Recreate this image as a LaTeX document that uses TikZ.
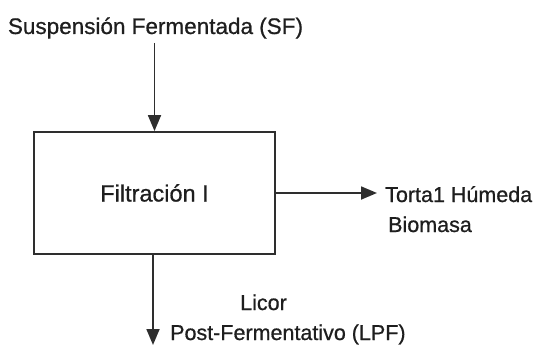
\documentclass[tikz,border=0pt]{standalone}
\usepackage{fontspec}
\setmainfont{Liberation Sans}[FakeBold=0.7]
\usetikzlibrary{arrows.meta}
\definecolor{txt}{HTML}{1E1E1E}
\definecolor{ln}{HTML}{2E2E2E}
\tikzset{
  lbl/.style={inner sep=0pt, text=txt, font=\fontsize{21.5}{30}\selectfont},
  procbox/.style={draw=ln, line width=1.8pt, fill=white, minimum width=241pt, minimum height=122pt, inner sep=0pt, text=txt, font=\fontsize{23.5}{28}\selectfont},
  arr/.style={draw=ln, line width=1.8pt, -{Triangle[length=16pt,width=13pt]}}
}
\begin{document}
\begin{tikzpicture}[x=1pt,y=-1pt]
\useasboundingbox (0,0) rectangle (535,345);
\node[lbl, anchor=base, font=\fontsize{22.5}{30}\selectfont] (sf) at (155.5,34) {Suspensión Fermentada (SF)};
\node[procbox] (fi) at (154.5,193) {Filtración I};
\node[lbl, anchor=base west, align=left] (tb) at (385,232) {Torta1 Húmeda\\\hspace*{3pt}Biomasa};
\node[lbl, anchor=base west, align=left] (lpf) at (170,340) {\hspace*{70pt}Licor\\Post-Fermentativo (LPF)};
\coordinate (lpfend) at (153,345);
\draw[arr] ([yshift=-4pt]sf.south -| fi.north) -- (fi.north);
\draw[arr] (fi.east) -- ([xshift=-8pt]fi.east -| tb.west);
\draw[arr] (fi.south -| lpfend) -- (lpfend);
\end{tikzpicture}
\end{document}
